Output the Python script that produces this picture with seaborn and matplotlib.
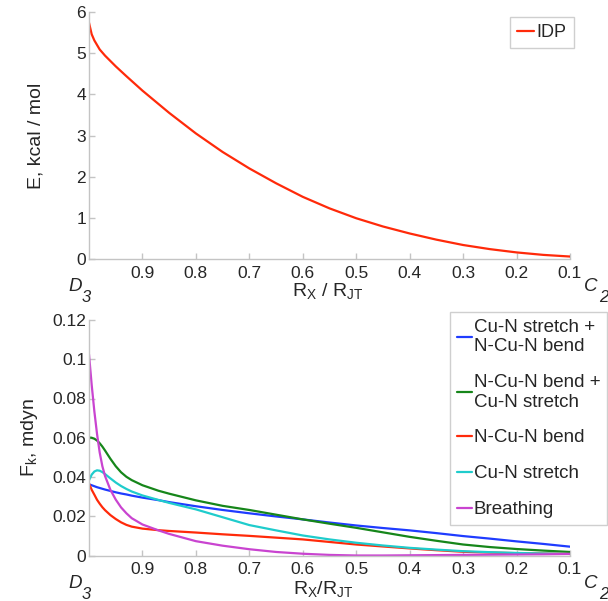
import pandas as pd
import matplotlib
matplotlib.use("Agg")
import matplotlib.pyplot as plt
import seaborn as sns

# Energia ao longo do caminho D3 -> C2
r_top = [1.0, 0.995, 0.99, 0.98, 0.97, 0.96, 0.95, 0.93, 0.9, 0.85, 0.8, 0.75, 0.7,
         0.65, 0.6, 0.55, 0.5, 0.45, 0.4, 0.35, 0.3, 0.25, 0.2, 0.15, 0.1]
e_idp = [5.74, 5.46, 5.31, 5.09, 4.94, 4.81, 4.68, 4.44, 4.09, 3.55, 3.05, 2.6, 2.2,
         1.84, 1.51, 1.23, 0.99, 0.79, 0.62, 0.47, 0.34, 0.24, 0.16, 0.1, 0.06]

# Constantes de força
r_bot = [1.0, 0.995, 0.99, 0.985, 0.98, 0.975, 0.97, 0.96, 0.95, 0.94, 0.93, 0.92, 0.9,
         0.87, 0.85, 0.8, 0.75, 0.7, 0.65, 0.6, 0.55, 0.5, 0.45, 0.4, 0.35, 0.3,
         0.25, 0.2, 0.15, 0.1]
f_stretch_bend = [0.0363, 0.0358, 0.0353, 0.0348, 0.0344, 0.034, 0.0336, 0.0329, 0.0322,
                  0.0316, 0.0311, 0.0305, 0.0295, 0.0282, 0.0272, 0.0251, 0.0232, 0.0215,
                  0.0199, 0.0184, 0.0168, 0.0153, 0.014, 0.0128, 0.0114, 0.0099, 0.0086,
                  0.0072, 0.0059, 0.0045]
f_bend_stretch = [0.0601, 0.06, 0.0595, 0.0586, 0.0572, 0.0555, 0.0535, 0.0493, 0.0455,
                  0.0424, 0.0401, 0.0384, 0.0358, 0.033, 0.0315, 0.0281, 0.0253, 0.0232,
                  0.0208, 0.0184, 0.0162, 0.0141, 0.0118, 0.0095, 0.0075, 0.0056, 0.0043,
                  0.0033, 0.0025, 0.0018]
f_bend = [0.0366, 0.0335, 0.031, 0.0284, 0.0264, 0.0246, 0.0231, 0.0206, 0.0186, 0.0169,
          0.0156, 0.0147, 0.0137, 0.0129, 0.0125, 0.0117, 0.0108, 0.01, 0.0091, 0.0082,
          0.0069, 0.0056, 0.0046, 0.0036, 0.0027, 0.0019, 0.0015, 0.0012, 0.001, 0.0008]
f_stretch = [0.0383, 0.0412, 0.0428, 0.0434, 0.0432, 0.0425, 0.0415, 0.0393, 0.0372, 0.0354,
             0.0339, 0.0326, 0.0306, 0.0283, 0.0268, 0.0235, 0.0195, 0.0155, 0.0128,
             0.0102, 0.0082, 0.0065, 0.0051, 0.0039, 0.003, 0.0022, 0.0017, 0.0013, 0.001,
             0.0008]
f_breathing = [0.1025, 0.087, 0.0735, 0.062, 0.0525, 0.0455, 0.0405, 0.0335, 0.0285, 0.0245,
               0.0215, 0.019, 0.0158, 0.0128, 0.011, 0.0073, 0.005, 0.0032, 0.0018,
               0.0009, 0.0003, 0.0, 0.0, 0.0001, 0.0002, 0.0003, 0.0004, 0.0005, 0.0006,
               0.0008]

modes = ["Cu-N stretch +\nN-Cu-N bend", "N-Cu-N bend +\nCu-N stretch",
         "N-Cu-N bend", "Cu-N stretch", "Breathing"]
cores = ["#1f3cff", "#16861a", "#ff2a0a", "#1fcccc", "#c944d0"]

sns.set_style("white")
plt.rcParams["font.family"] = ["Liberation Sans", "DejaVu Sans"]
plt.rcParams["mathtext.fontset"] = "custom"
plt.rcParams["mathtext.rm"] = "Liberation Sans"
plt.rcParams["mathtext.it"] = "Liberation Sans:italic"

df_top = pd.DataFrame({"R": r_top, "E": e_idp, "serie": "IDP"})
df_bot = pd.concat([
    pd.DataFrame({"R": r_bot, "F": vals, "modo": nome})
    for nome, vals in zip(modes, [f_stretch_bend, f_bend_stretch, f_bend, f_stretch, f_breathing])
])

W, H = 608, 601
fig = plt.figure(figsize=(W / 100, H / 100), dpi=100)
ax1 = fig.add_axes([89 / W, 1 - 259 / H, 481 / W, 247 / H])
ax2 = fig.add_axes([89 / W, 1 - 555.5 / H, 481 / W, 235.5 / H])

sns.lineplot(data=df_top, x="R", y="E", hue="serie", palette=["#ff2a0a"],
             linewidth=1.6, ax=ax1, sort=False)
sns.lineplot(data=df_bot, x="R", y="F", hue="modo", palette=cores, hue_order=modes,
             linewidth=1.6, ax=ax2, sort=False)

cinza = "#c4c4c4"
for ax in (ax1, ax2):
    ax.set_xlim(1.0, 0.1)
    ax.set_xticks([0.9, 0.8, 0.7, 0.6, 0.5, 0.4, 0.3, 0.2, 0.1])
    ax.set_xticklabels(["0.9", "0.8", "0.7", "0.6", "0.5", "0.4", "0.3", "0.2", "0.1"])
    for s in ["top", "right"]:
        ax.spines[s].set_visible(False)
    for s in ["left", "bottom"]:
        ax.spines[s].set_color(cinza)
        ax.spines[s].set_linewidth(1.0)
    ax.tick_params(direction="in", length=4, width=1, color=cinza, labelsize=12.5,
                   left=True, bottom=True)
    ax.tick_params(axis="x", pad=5)
    ax.tick_params(axis="y", pad=2)

ax1.set_ylim(0, 6)
ax1.set_yticks(range(0, 7))
ax2.set_ylim(0, 0.12)
ax2.set_yticks([0, 0.02, 0.04, 0.06, 0.08, 0.1, 0.12])
ax2.set_yticklabels(["0", "0.02", "0.04", "0.06", "0.08", "0.1", "0.12"])

ax1.set_ylabel("E, kcal / mol", fontsize=14)
ax1.yaxis.set_label_coords(-0.092, 0.5)
ax1.set_xlabel(r"R$_\mathregular{X}$ / R$_\mathregular{JT}$", fontsize=14)
ax1.xaxis.set_label_coords(0.497, -0.09)
ax2.set_ylabel(r"F$_\mathregular{k}$, mdyn", fontsize=14)
ax2.yaxis.set_label_coords(-0.102, 0.5)
ax2.set_xlabel(r"R$_\mathregular{X}$/R$_\mathregular{JT}$", fontsize=14)
ax2.xaxis.set_label_coords(0.487, -0.1)

# rótulos de simetria nas duas pontas
for base in (291, 588):
    fig.text(68 / W, 1 - base / H, "D", fontsize=13.5, style="italic", va="baseline")
    fig.text(82 / W, 1 - (base + 11) / H, "3", fontsize=12, style="italic", va="baseline")
    fig.text(584 / W, 1 - base / H, "C", fontsize=13.5, style="italic", va="baseline")
    fig.text(599 / W, 1 - (base + 11) / H, "2", fontsize=12, style="italic", va="baseline")

leg1 = ax1.legend(loc="upper right", bbox_to_anchor=(574 / W, 1 - 17 / H),
                  bbox_transform=fig.transFigure, fontsize=13, handlelength=0.95,
                  handletextpad=0.15, borderaxespad=0, fancybox=False, borderpad=0.4)
leg1.get_frame().set_edgecolor(cinza)
leg1.get_frame().set_linewidth(1.0)

leg2 = ax2.legend(loc="upper right", bbox_to_anchor=(607 / W, 1 - 312 / H),
                  bbox_transform=fig.transFigure, fontsize=13.5, handlelength=0.8,
                  handletextpad=0.1, borderaxespad=0, fancybox=False, labelspacing=1.0,
                  borderpad=0.35)
leg2.get_frame().set_edgecolor(cinza)
leg2.get_frame().set_linewidth(1.0)
for t in leg2.get_texts():
    t.set_linespacing(1.2)

fig.savefig("out.png", dpi=100)
